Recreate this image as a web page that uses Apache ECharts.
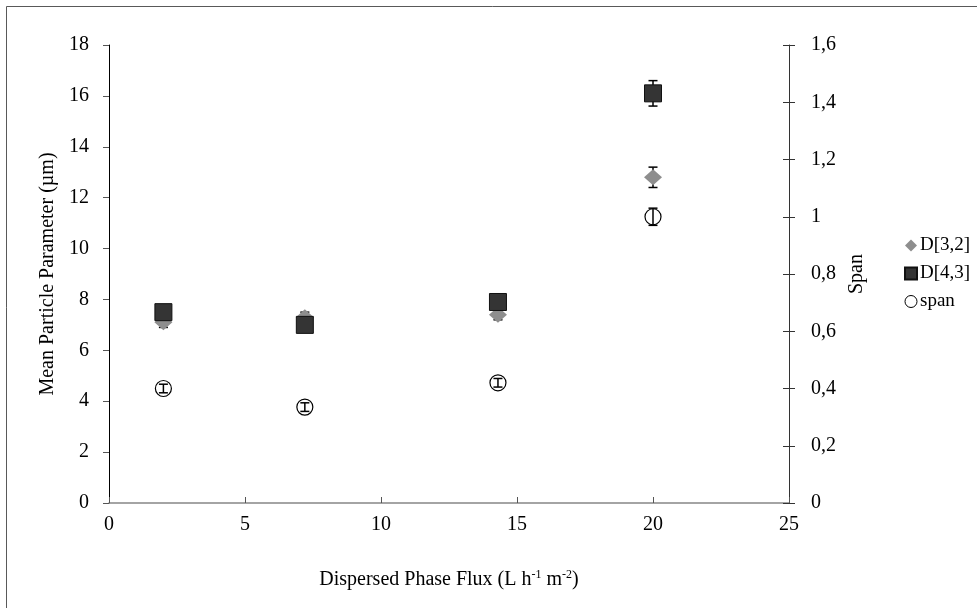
<!DOCTYPE html>
<html>
<head>
<meta charset="utf-8">
<script src="https://cdn.jsdelivr.net/npm/echarts@6/dist/echarts.min.js"></script>
<style>html,body{margin:0;padding:0;background:#fff;}#c{width:977px;height:608px;}</style>
</head>
<body>
<div id="c"></div>
<script>
const fluxX = [2, 7.2, 14.3, 20];
const d32 = [7.1, 7.3, 7.4, 12.8];
const d32Err = [0.2, 0.2, 0.2, 0.4];
const d43 = [7.5, 7.0, 7.9, 16.1];
const d43Err = [0.2, 0.2, 0.2, 0.5];
const span = [0.40, 0.335, 0.42, 1.0];
const spanErr = [0.015, 0.015, 0.015, 0.03];
const xTicks = [0, 5, 10, 15, 20, 25];

const FONT = '"Liberation Serif", "Times New Roman", serif';
const chart = echarts.init(document.getElementById('c'));

function pts(ys) { return fluxX.map((x, i) => [x, ys[i]]); }
function errs(ys, es) { return fluxX.map((x, i) => [x, ys[i] - es[i], ys[i] + es[i]]); }
function errRender(params, api) {
  const x = api.value(0);
  const lo = api.coord([x, api.value(1)]);
  const hi = api.coord([x, api.value(2)]);
  const w = 4.5;
  const st = { stroke: '#000', lineWidth: 1.5 };
  return {
    type: 'group',
    children: [
      { type: 'line', shape: { x1: lo[0], y1: lo[1], x2: hi[0], y2: hi[1] }, style: st },
      { type: 'line', shape: { x1: lo[0] - w, y1: lo[1], x2: lo[0] + w, y2: lo[1] }, style: st },
      { type: 'line', shape: { x1: hi[0] - w, y1: hi[1], x2: hi[0] + w, y2: hi[1] }, style: st }
    ]
  };
}

const option = {
  backgroundColor: '#fff',
  animation: false,
  textStyle: { fontFamily: FONT, color: '#000' },
  graphic: [{
    type: 'rect', silent: true,
    shape: { x: 6.5, y: 6.5, width: 1100, height: 1100 },
    style: { fill: 'none', stroke: '#595959', lineWidth: 1 }
  }],
  grid: { left: 109, right: 188, top: 45, bottom: 105 },
  legend: {
    orient: 'vertical', left: 899, top: 231,
    itemWidth: 12, itemHeight: 12, itemGap: 9,
    textStyle: { fontFamily: FONT, fontSize: 19, color: '#000', padding: [0, 0, 0, -2] },
    data: [
      { name: 'D[3,2]', icon: 'diamond' },
      { name: 'D[4,3]', icon: 'rect' },
      { name: 'span', icon: 'circle', itemStyle: { borderWidth: 1 } }
    ]
  },
  xAxis: {
    type: 'value', min: 0, max: 25, interval: 5,
    splitLine: { show: false },
    axisLine: { lineStyle: { color: '#868686', width: 1.5 } },
    axisTick: { inside: true, length: 6, lineStyle: { color: '#555' } },
    axisLabel: { fontFamily: FONT, fontSize: 20, color: '#000', margin: 12 },
    name: 'Dispersed Phase Flux (L h{sup|-1} m{sup|-2})',
    nameLocation: 'middle', nameGap: 66,
    nameTextStyle: {
      fontFamily: FONT, fontSize: 20, color: '#000', lineHeight: 22,
      rich: { sup: { fontFamily: FONT, fontSize: 12, color: '#000', verticalAlign: 'top', lineHeight: 22, padding: [0, 0, 8, 0] } }
    }
  },
  yAxis: [{
    type: 'value', min: 0, max: 18, interval: 2, position: 'left',
    splitLine: { show: false },
    axisLine: { show: true, lineStyle: { color: '#000', width: 1 } },
    axisTick: { show: true, length: 6, lineStyle: { color: '#555' } },
    axisLabel: { fontFamily: FONT, fontSize: 20, color: '#000', margin: 20 },
    name: 'Mean Particle Parameter (µm)', nameLocation: 'middle', nameGap: 46, nameRotate: 90,
    nameTextStyle: { fontFamily: FONT, fontSize: 20, color: '#000' }
  }, {
    type: 'value', min: 0, max: 1.6, interval: 0.2, position: 'right',
    splitLine: { show: false },
    axisLine: { show: true, lineStyle: { color: '#333', width: 1 } },
    axisTick: { show: true, length: 6, lineStyle: { color: '#333' } },
    axisLabel: { fontFamily: FONT, fontSize: 20, color: '#000', margin: 22,
      formatter: v => String(Math.round(v * 10) / 10).replace('.', ',') },
    name: 'Span', nameLocation: 'middle', nameGap: 49, nameRotate: 90,
    nameTextStyle: { fontFamily: FONT, fontSize: 20, color: '#000' }
  }, {
    type: 'value', min: 0, max: 1.6, interval: 0.2, position: 'right',
    splitLine: { show: false },
    axisLine: { show: false },
    axisTick: { show: true, inside: true, length: 6, lineStyle: { color: '#333' } },
    axisLabel: { show: false }
  }],
  series: [
    { name: 'errD32', type: 'custom', yAxisIndex: 0, renderItem: errRender, data: errs(d32, d32Err), z: 1 },
    { name: 'D[3,2]', type: 'scatter', yAxisIndex: 0, symbol: 'diamond', symbolSize: [18, 16],
      itemStyle: { color: '#8e8e8e', opacity: 1 }, data: pts(d32), z: 2 },
    { name: 'errD43', type: 'custom', yAxisIndex: 0, renderItem: errRender, data: errs(d43, d43Err), z: 3 },
    { name: 'D[4,3]', type: 'scatter', yAxisIndex: 0, symbol: 'rect', symbolSize: 17,
      itemStyle: { color: '#343434', borderColor: '#111', borderWidth: 1, opacity: 1 }, data: pts(d43), z: 4 },
    { name: 'span', type: 'scatter', yAxisIndex: 1, symbol: 'circle', symbolSize: 16,
      itemStyle: { color: '#fff', borderColor: '#000', borderWidth: 1.2, opacity: 1 }, data: pts(span), z: 5 },
    { name: 'errSpan', type: 'custom', yAxisIndex: 1, renderItem: errRender, data: errs(span, spanErr), z: 6 }
  ]
};
chart.setOption(option);
</script>
</body>
</html>
